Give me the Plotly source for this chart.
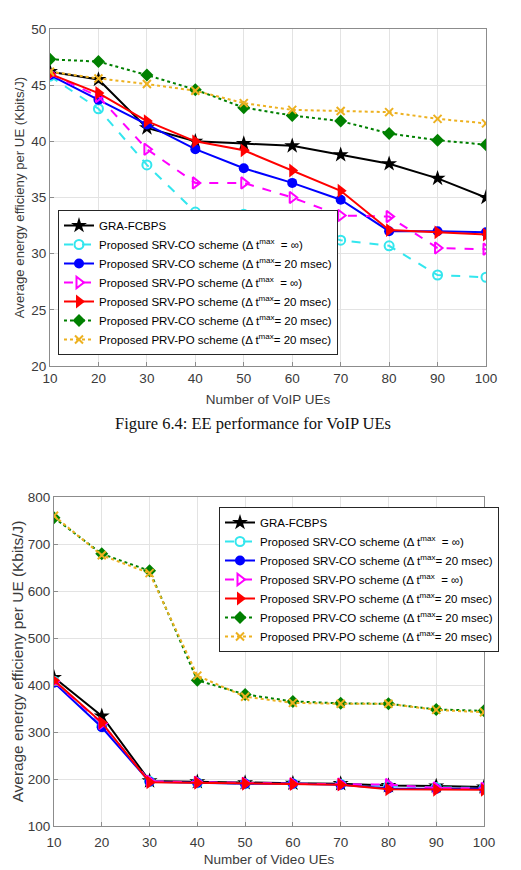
import plotly.graph_objects as go

x_vals = [10, 20, 30, 40, 50, 60, 70, 80, 90, 100]

names = [
    "GRA-FCBPS",
    "Proposed SRV-CO scheme (Δ t<sup>max</sup>  = ∞)",
    "Proposed SRV-CO scheme (Δ t<sup>max</sup>= 20 msec)",
    "Proposed SRV-PO scheme (Δ t<sup>max</sup>  = ∞)",
    "Proposed SRV-PO scheme (Δ t<sup>max</sup>= 20 msec)",
    "Proposed PRV-CO scheme (Δ t<sup>max</sup>= 20 msec)",
    "Proposed PRV-PO scheme (Δ t<sup>max</sup>= 20 msec)",
]

# VoIP chart values (Kbits/J)
voip_gra = [46.2, 45.5, 41.2, 40.0, 39.8, 39.6, 38.8, 38.0, 36.7, 35.0]
voip_srvco_inf = [45.8, 42.9, 37.9, 33.7, 33.5, 32.5, 31.2, 30.7, 28.1, 27.9]
voip_srvco_20 = [45.9, 43.7, 41.5, 39.3, 37.6, 36.3, 34.8, 32.0, 32.0, 31.9]
voip_srvpo_inf = [46.0, 44.0, 39.3, 36.3, 36.3, 35.0, 33.4, 33.3, 30.5, 30.4]
voip_srvpo_20 = [46.0, 44.3, 41.8, 40.0, 39.2, 37.4, 35.6, 32.1, 31.9, 31.7]
voip_prvco_20 = [47.3, 47.1, 45.9, 44.6, 43.0, 42.3, 41.8, 40.7, 40.1, 39.7]
voip_prvpo_20 = [46.2, 45.6, 45.1, 44.5, 43.4, 42.8, 42.7, 42.6, 42.0, 41.6]

# Video chart values (Kbits/J)
video_gra = [416, 334, 196, 194, 192, 191, 190, 186, 185, 183]
video_srvco_inf = [408, 312, 195, 192, 190, 190, 189, 185, 182, 181]
video_srvco_20 = [405, 310, 194, 192, 190, 190, 188, 180, 179, 179]
video_srvpo_inf = [408, 318, 195, 193, 191, 190, 189, 188, 181, 180]
video_srvpo_20 = [410, 320, 193, 192, 190, 189, 188, 178, 177, 177]
video_prvco_20 = [756, 679, 643, 410, 380, 365, 361, 360, 348, 345]
video_prvpo_20 = [760, 676, 638, 420, 375, 362, 360, 360, 347, 342]

voip_series = [voip_gra, voip_srvco_inf, voip_srvco_20, voip_srvpo_inf,
               voip_srvpo_20, voip_prvco_20, voip_prvpo_20]
video_series = [video_gra, video_srvco_inf, video_srvco_20, video_srvpo_inf,
                video_srvpo_20, video_prvco_20, video_prvpo_20]

styles = [
    dict(color="#000000", dash="solid", symbol="star", size=12),
    dict(color="#33E6EE", dash="dash", symbol="circle-open", size=9),
    dict(color="#0000FF", dash="solid", symbol="circle", size=10),
    dict(color="#FF00FF", dash="dash", symbol="triangle-right-open", size=10),
    dict(color="#FF0000", dash="solid", symbol="triangle-right", size=12),
    dict(color="#008000", dash="dot", symbol="diamond", size=10),
    dict(color="#EDB120", dash="dot", symbol="x-thin-open", size=8),
]

fig = go.Figure()

def add_series(data_list, xaxis, yaxis, legend):
    for name, data, st in zip(names, data_list, styles):
        mk = dict(symbol=st["symbol"], size=st["size"], color=st["color"])
        if st["symbol"].endswith("open") or st["symbol"].startswith("x-thin"):
            mk["line"] = dict(color=st["color"], width=2)
        fig.add_trace(go.Scatter(
            x=x_vals, y=data, name=name, mode="lines+markers",
            line=dict(color=st["color"], dash=st["dash"], width=2),
            marker=mk, xaxis=xaxis, yaxis=yaxis, legend=legend,
        ))

add_series(voip_series, "x", "y", "legend")
add_series(video_series, "x2", "y2", "legend2")

W, H = 521, 870
font_family = "Liberation Sans, Arial, sans-serif"
tick_font = dict(family=font_family, size=13.5, color="#3A3A3A")

def tfont(size):
    return dict(family=font_family, size=size, color="#3A3A3A")

axis_common = dict(
    showgrid=True, gridcolor="#E3E3E3", gridwidth=1,
    showline=True, linecolor="#8C8C8C", linewidth=1, mirror=True,
    ticks="inside", ticklen=4, tickcolor="#8C8C8C",
    tickfont=tick_font, zeroline=False, automargin=False,
)

fig.update_layout(
    width=W, height=H,
    margin=dict(l=0, r=0, t=0, b=0),
    paper_bgcolor="white", plot_bgcolor="white",
    showlegend=True,
    xaxis=dict(domain=[50 / W, 486 / W], range=[10, 100], dtick=10, anchor="y",
               title=dict(text="Number of VoIP UEs", font=tfont(13.5), standoff=9),
               **axis_common),
    yaxis=dict(domain=[1 - 366 / H, 1 - 29 / H], range=[20, 50], dtick=5, anchor="x",
               title=dict(text="Average energy efficieny per UE (Kbits/J)", font=tfont(13.2),
                          standoff=3),
               **axis_common),
    xaxis2=dict(domain=[54 / W, 484 / W], range=[10, 100], dtick=10, anchor="y2",
                ticklabelstandoff=4,
                title=dict(text="Number of Video UEs", font=tfont(13.5), standoff=5),
                **axis_common),
    yaxis2=dict(domain=[1 - 826 / H, 1 - 497 / H], range=[100, 800], dtick=100, anchor="x2",
                title=dict(text="Average energy efficieny per UE (Kbits/J)", font=tfont(15.4),
                           standoff=0),
                **axis_common),
    legend=dict(x=58 / W, y=1 - 355 / H, xanchor="left", yanchor="bottom",
                bgcolor="white", bordercolor="#262626", borderwidth=1,
                font=dict(family=font_family, size=11.5, color="#000000"),
                tracegroupgap=0, itemwidth=30),
    legend2=dict(x=219 / W, y=1 - 507 / H, xanchor="left", yanchor="top",
                 bgcolor="white", bordercolor="#262626", borderwidth=1,
                 font=dict(family=font_family, size=11.5, color="#000000"),
                 tracegroupgap=0, itemwidth=30),
    annotations=[dict(
        text="Figure 6.4: EE performance for VoIP UEs",
        x=253 / W, y=1 - 423 / H, xref="paper", yref="paper",
        xanchor="center", yanchor="middle", showarrow=False,
        font=dict(family="Liberation Serif, Times New Roman, serif", size=16.5, color="#111111"),
    )],
)

fig.write_html("out.html")
